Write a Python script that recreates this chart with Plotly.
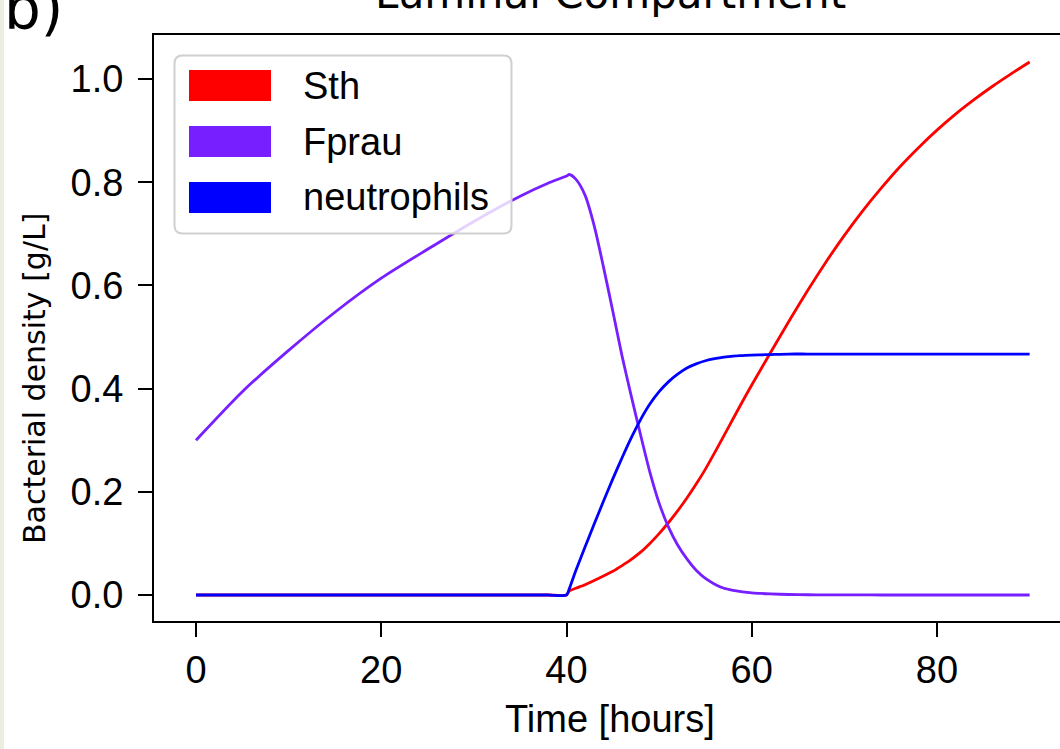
import plotly.graph_objects as go

# ---------------- data ----------------
time = [0, 5, 10, 15, 20, 25, 30, 35, 38, 40, 40.3, 41, 42, 43, 44, 45, 46, 47, 48, 49,
        50, 51, 52, 53, 54, 55, 56, 57, 58, 59, 60, 61, 62, 64, 66, 68, 70, 72, 74, 76, 78,
        80, 82, 84, 86, 88, 90]

sth = [0, 0, 0, 0, 0, 0, 0, 0, 0, 0, 0.008, 0.013, 0.020, 0.028, 0.037, 0.046, 0.057,
       0.069, 0.083, 0.100, 0.119, 0.140, 0.163, 0.188, 0.215, 0.244, 0.276, 0.309,
       0.342, 0.375, 0.407, 0.438, 0.469, 0.530, 0.589, 0.645, 0.697, 0.745, 0.789,
       0.830, 0.867, 0.901, 0.932, 0.960, 0.986, 1.010, 1.033]

fprau = [0.300, 0.394, 0.474, 0.548, 0.614, 0.670, 0.724, 0.773, 0.798, 0.812, 0.815,
         0.806, 0.775, 0.715, 0.635, 0.550, 0.463, 0.385, 0.310, 0.238, 0.178, 0.132,
         0.097, 0.070, 0.048, 0.032, 0.021, 0.013, 0.009, 0.006, 0.004, 0.003, 0.002,
         0.001, 0.0005, 0.0003, 0.0002, 0.0001, 0, 0, 0, 0, 0, 0, 0, 0, 0]

neutrophils = [0, 0, 0, 0, 0, 0, 0, 0, 0, 0, 0.012, 0.047, 0.093, 0.138, 0.182, 0.225,
               0.266, 0.305, 0.340, 0.370, 0.394, 0.413, 0.428, 0.440, 0.448, 0.454,
               0.458, 0.461, 0.463, 0.464, 0.465, 0.4655, 0.466, 0.467, 0.467, 0.467,
               0.467, 0.467, 0.467, 0.467, 0.467, 0.467, 0.467, 0.467, 0.467, 0.467, 0.467]

series_names = ["Sth", "Fprau", "neutrophils"]
series_colors = ["#ff0000", "#771fff", "#0000ff"]
x_ticks = [0, 20, 40, 60, 80]
y_ticks = [0.0, 0.2, 0.4, 0.6, 0.8, 1.0]

# ---------------- layout geometry (pixels) ----------------
FIG_W, FIG_H = 1060, 749
ML, MR, MT, MB = 154, 0, 35, 128
PW = FIG_W - ML - MR
PH = FIG_H - MT - MB


def px(x):
    return (x - ML) / PW


def py(y):
    return (FIG_H - MB - y) / PH


ARIAL = "Liberation Sans, Arial, sans-serif"
DEJAVU = "DejaVu Sans, sans-serif"

fig = go.Figure()
for name, vals, col in zip(series_names, [sth, fprau, neutrophils], series_colors):
    fig.add_trace(go.Scatter(x=time, y=vals, mode="lines", name=name,
                             line=dict(color=col, width=2.8, shape="spline", smoothing=0.7),
                             showlegend=False, hoverinfo="skip"))

fig.update_layout(
    width=FIG_W, height=FIG_H, autosize=False,
    margin=dict(l=ML, r=MR, t=MT, b=MB, pad=0),
    paper_bgcolor="white", plot_bgcolor="white",
    xaxis=dict(range=[-4.534, 93.28], tickvals=x_ticks, ticktext=[str(v) for v in x_ticks],
               showgrid=False, zeroline=False, showline=True, linecolor="black",
               linewidth=2, mirror=True, ticks="outside", ticklen=14, tickwidth=2,
               tickcolor="black", tickfont=dict(family=ARIAL, size=38, color="black")),
    yaxis=dict(range=[-0.0504, 1.0853], tickvals=y_ticks,
               ticktext=["%.1f" % v for v in y_ticks],
               showgrid=False, zeroline=False, showline=True, linecolor="black",
               linewidth=2, mirror=False, ticks="outside", ticklen=14, tickwidth=2,
               ticklabelstandoff=7,
               tickcolor="black", tickfont=dict(family=ARIAL, size=38, color="black")),
)

# left beige strip
shapes = [dict(type="rect", xref="paper", yref="paper", x0=px(0), x1=px(4),
               y0=py(FIG_H), y1=py(0), fillcolor="#eeeee0", line=dict(width=0),
               layer="above")]

# legend frame with rounded corners
x0, x1, y0, y1, r = 174.5, 511.5, 55.5, 233.5, 8


def P(x, y):
    return "%.5f,%.5f" % (px(x), py(y))


path = ("M " + P(x0 + r, y0) + " L " + P(x1 - r, y0) + " Q " + P(x1, y0) + " " + P(x1, y0 + r) +
        " L " + P(x1, y1 - r) + " Q " + P(x1, y1) + " " + P(x1 - r, y1) +
        " L " + P(x0 + r, y1) + " Q " + P(x0, y1) + " " + P(x0, y1 - r) +
        " L " + P(x0, y0 + r) + " Q " + P(x0, y0) + " " + P(x0 + r, y0) + " Z")
shapes.append(dict(type="path", xref="paper", yref="paper", path=path,
                   fillcolor="rgba(255,255,255,0.8)", line=dict(color="#d0d0d0", width=2),
                   layer="above"))

annotations = []
patch_tops = [70, 126, 182]
for name, col, top in zip(series_names, series_colors, patch_tops):
    shapes.append(dict(type="rect", xref="paper", yref="paper", x0=px(189), x1=px(271),
                       y0=py(top + 31), y1=py(top), fillcolor=col, line=dict(width=0),
                       layer="above"))
    annotations.append(dict(text=name, xref="paper", yref="paper", x=px(301),
                            y=py(top + 15.5), xanchor="left", yanchor="middle",
                            showarrow=False, font=dict(family=ARIAL, size=38, color="black")))

# axis titles and panel title
annotations.append(dict(text="Time [hours]", xref="paper", yref="paper", x=px(610),
                        y=py(742), xanchor="center", yanchor="bottom", showarrow=False,
                        font=dict(family=ARIAL, size=38, color="black")))
annotations.append(dict(text="Bacterial density [g/L]", xref="paper", yref="paper",
                        x=px(34), y=py(379), xanchor="center", yanchor="middle",
                        textangle=-90, showarrow=False,
                        font=dict(family=DEJAVU, size=30, color="black")))
annotations.append(dict(text="Luminal Compartment", xref="paper", yref="paper", x=px(610),
                        y=py(20), xanchor="center", yanchor="bottom", showarrow=False,
                        font=dict(family=DEJAVU, size=42, color="black")))
annotations.append(dict(text="b)", xref="paper", yref="paper", x=px(2), y=py(45),
                        xanchor="left", yanchor="bottom", showarrow=False,
                        font=dict(family=DEJAVU, size=58, color="black")))

fig.update_layout(shapes=shapes, annotations=annotations)
fig.write_html("out.html", config={"displayModeBar": False},
               post_script="document.body.style.margin='0';document.body.style.padding='0';"
                           "document.documentElement.style.overflow='hidden';")
